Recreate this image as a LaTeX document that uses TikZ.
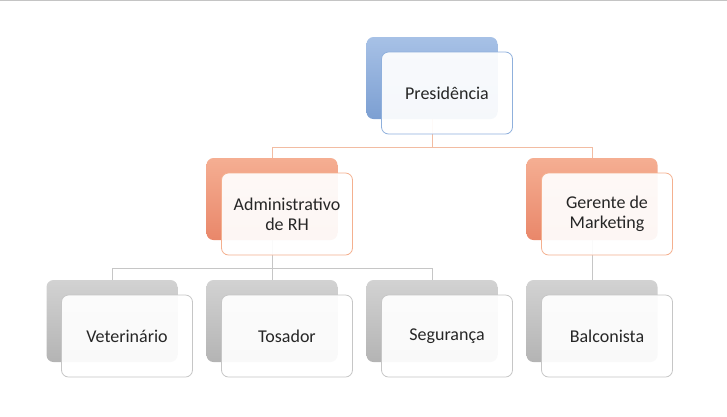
\documentclass[tikz,border=0pt]{standalone}
\usepackage{fontspec}
\setmainfont{Carlito}
\definecolor{txt}{HTML}{262626}
\definecolor{blueT}{HTML}{A7C1E6}
\definecolor{blueB}{HTML}{7C9FD2}
\definecolor{blueL}{HTML}{8FB0DC}
\definecolor{orT}{HTML}{F5AE92}
\definecolor{orB}{HTML}{E9876A}
\definecolor{orL}{HTML}{F4B08F}
\definecolor{orC}{HTML}{F2BCA2}
\definecolor{grT}{HTML}{D2D2D2}
\definecolor{grB}{HTML}{B4B4B4}
\definecolor{grL}{HTML}{C6C6C6}
\definecolor{topline}{HTML}{C4C4C4}
\tikzset{
  backbox/.style={rounded corners=7pt, minimum width=131pt, minimum height=82pt, inner sep=0pt, draw=none},
  frontbox/.style={rounded corners=7pt, minimum width=131pt, minimum height=82pt, inner sep=2pt, draw, line width=0.8pt,
    fill=white, fill opacity=0.93, text opacity=1, align=center, text=txt, font=\fontsize{18}{20}\selectfont},
  bluebk/.style={backbox, top color=blueT, bottom color=blueB},
  orbk/.style={backbox, top color=orT, bottom color=orB},
  grbk/.style={backbox, top color=grT, bottom color=grB},
  orconn/.style={draw=orC, line width=0.8pt},
  grconn/.style={draw=grL, line width=0.8pt},
}
\begin{document}
\begin{tikzpicture}[x=1pt,y=-1pt]
\useasboundingbox (0,0) rectangle (727,416);
\draw[topline, line width=1.2pt] (0,0.6) -- (727,0.6);
% back boxes
\node[bluebk] (presB) at (432,78) {};
\node[orbk] (admB) at (272,199) {};
\node[orbk] (gerB) at (592,199) {};
\node[grbk] (vetB) at (112,321) {};
\node[grbk] (tosB) at (272,321) {};
\node[grbk] (segB) at (432,321) {};
\node[grbk] (balB) at (592,321) {};
% connectors
\coordinate (j1) at (432,147);
\coordinate (j2) at (272,268);
\draw[orconn] (presB.south) -- (j1);
\draw[orconn] (j1) -| (admB.north);
\draw[orconn] (j1) -| (gerB.north);
\draw[grconn] (admB.south) -- (j2);
\draw[grconn] (j2) -| (vetB.north);
\draw[grconn] (j2) -- (tosB.north);
\draw[grconn] (j2) -| (segB.north);
\draw[grconn] (gerB.south) -- (balB.north);
% front boxes
\node[frontbox, draw=blueL] (presF) at (447,93) {Presidência};
\node[frontbox, draw=orL] (admF) at (287,214) {Administrativo\\de RH};
\node[frontbox, draw=orL] (gerF) at (607,214) {Gerente de\\Marketing};
\node[frontbox, draw=grL] (vetF) at (127,336) {Veterinário};
\node[frontbox, draw=grL] (tosF) at (287,336) {Tosador};
\node[frontbox, draw=grL] (segF) at (447,336) {Segurança};
\node[frontbox, draw=grL] (balF) at (607,336) {Balconista};
\end{tikzpicture}
\end{document}
